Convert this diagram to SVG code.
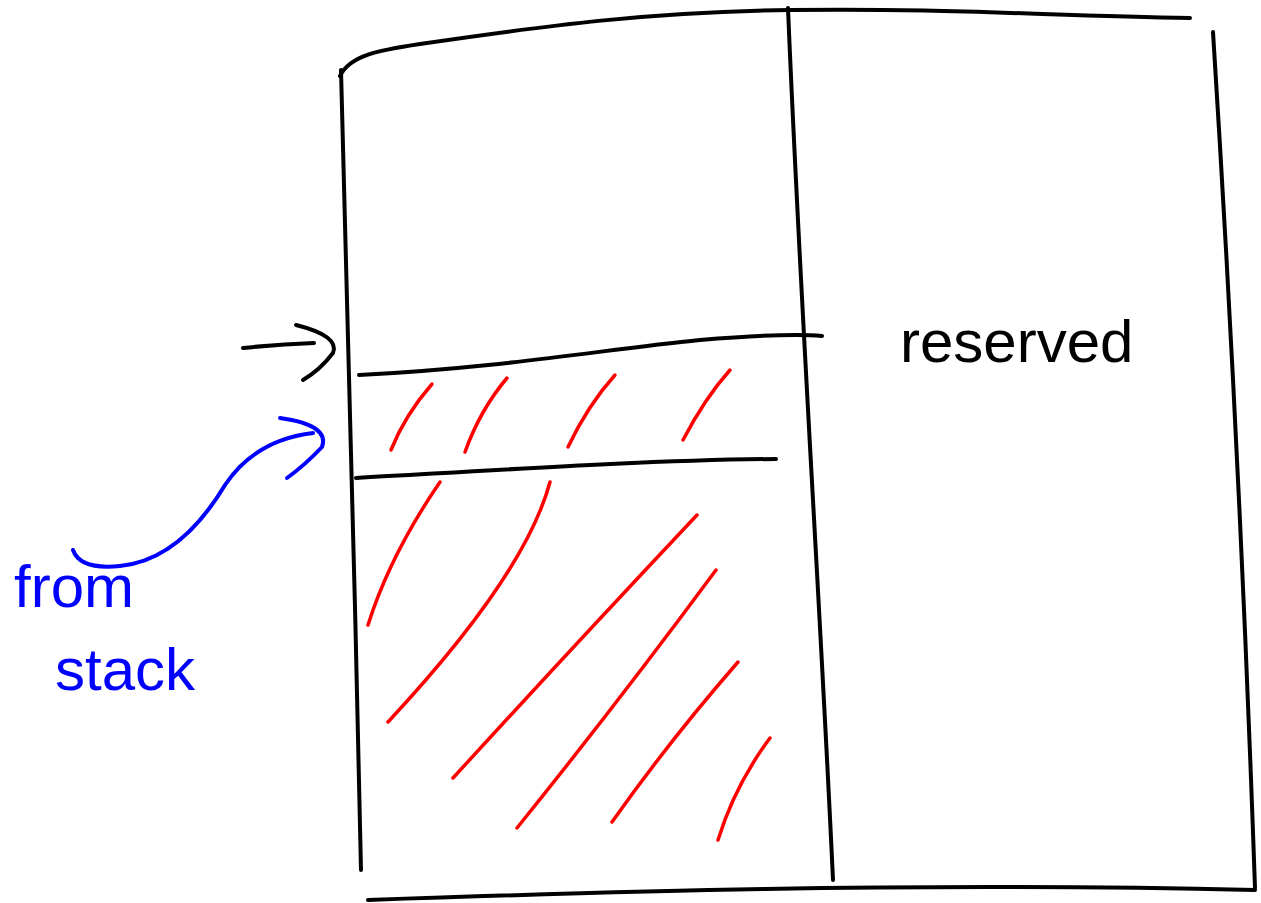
<svg xmlns="http://www.w3.org/2000/svg" width="1261" height="903" viewBox="0 0 1261 903">
<style>
.k{fill:none;stroke:#000;stroke-width:4;stroke-linecap:round;stroke-linejoin:round}
.r{fill:none;stroke:#ff0000;stroke-width:3.5;stroke-linecap:round}
.b{fill:none;stroke:#0000ff;stroke-width:4;stroke-linecap:round;stroke-linejoin:round}
.t{font-family:"Liberation Sans",Arial,sans-serif;font-size:60px}
</style>
<rect width="1261" height="903" fill="#fff"/>
<g id="box">
<path class="k" d="M340,76 C350,55 380,50 420,44 C550,25 650,12 790,10 C950,8 1050,16 1190,18"/>
<path class="k" d="M341,70 C348,300 355,600 361,870"/>
<path class="k" d="M788,8 C800,300 820,600 833,880"/>
<path class="k" d="M1213,32 C1230,300 1245,600 1255,888"/>
<path class="k" d="M368,900 C600,892 900,882 1255,890"/>
<path class="k" d="M359,375 C500,368 600,350 700,340 C760,335 800,334 822,336"/>
<path class="k" d="M356,478 C500,470 650,460 776,459"/>
</g>
<g id="reserved">
<text class="t" x="900" y="362" fill="#000">reserved</text>
</g>
<g id="hatch">
<path class="r" d="M391,450 Q405,415 432,384"/>
<path class="r" d="M465,452 Q480,410 507,378"/>
<path class="r" d="M568,447 Q588,405 615,375"/>
<path class="r" d="M683,440 Q705,398 730,370"/>
<path class="r" d="M368,625 Q390,555 440,482"/>
<path class="r" d="M388,722 Q525,575 550,482"/>
<path class="r" d="M453,778 Q570,650 697,515"/>
<path class="r" d="M517,828 Q620,700 716,570"/>
<path class="r" d="M612,822 Q670,740 738,662"/>
<path class="r" d="M718,840 Q735,785 770,738"/>
</g>
<g id="from-stack">
<text class="t" x="14" y="607" fill="#0000ff">from</text>
<text class="t" x="55" y="690" fill="#0000ff">stack</text>
</g>
<g id="connectors">
<path class="k" d="M243,348 Q280,344 314,343"/>
<path class="k" d="M296,325 Q340,336 333,353 Q320,370 303,380"/>
<path class="b" d="M73,550 Q80,570 120,566 Q180,560 225,485 Q255,440 313,433"/>
<path class="b" d="M280,418 Q330,425 322,447 Q305,465 287,478"/>
</g>
</svg>
